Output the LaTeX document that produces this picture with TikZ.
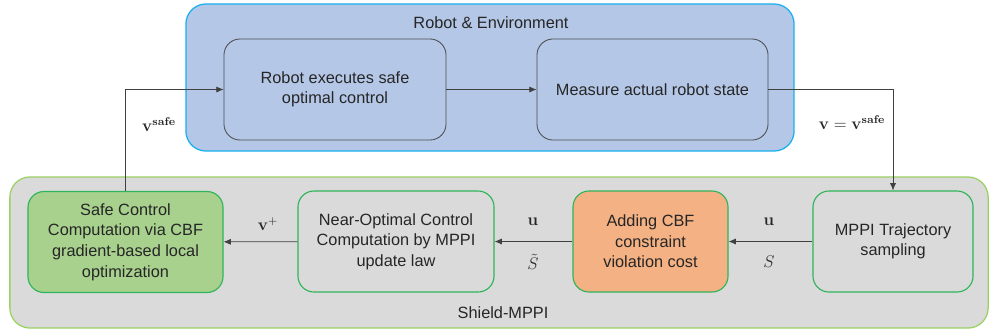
\documentclass[tikz,border=0pt]{standalone}
\usepackage{amsmath,amssymb}
\usepackage[no-math]{fontspec}
\setmainfont{Liberation Sans}
\usetikzlibrary{arrows.meta}

\definecolor{envfill}{HTML}{B4C7E7}
\definecolor{envedge}{HTML}{1AB0EE}
\definecolor{shieldfill}{HTML}{DADADA}
\definecolor{shieldedge}{HTML}{9BD163}
\definecolor{stageedge}{HTML}{2EB45A}
\definecolor{safefill}{HTML}{A9D18E}
\definecolor{costfill}{HTML}{F4B183}

\tikzset{
	groupbox/.style={draw, rounded corners=0.5cm, line width=0.9pt},
	envstage/.style={draw=black!70, fill=envfill, rounded corners=0.4cm, line width=0.6pt, align=center, minimum height=2.525cm},
	stage/.style={draw=stageedge, fill=shieldfill, rounded corners=0.4cm, line width=0.8pt, align=center, minimum height=2.525cm},
	flow/.style={->, draw=black!75, line width=0.5pt},
}

\begin{document}
\begin{tikzpicture}[x=0.025cm, y=-0.025cm, every node/.style={font=\fontsize{11.6}{14.6}\selectfont, text=black!85}, >={Latex[length=1.8mm, width=1.5mm]}]
	\useasboundingbox (0,0) rectangle (990,332);
	% outer groups
	\node (shield) [groupbox, draw=shieldedge, fill=shieldfill, minimum width=24.45cm, minimum height=3.775cm] at (499,252.5) {};
	\node (env) [groupbox, draw=envedge, fill=envfill, minimum width=15.2cm, minimum height=3.675cm] at (490,77.5) {};
	\node (envtitle) at (491,23) {Robot \& Environment};
	\node (shieldtitle) at (503,313) {Shield-MPPI};
	% robot side
	\node (exec) [envstage, minimum width=5.55cm] at (335,89.5) {Robot executes safe\\optimal control};
	\node (meas) [envstage, minimum width=5.775cm] at (652.5,89.5) {Measure actual robot state};
	% controller side
	\node (safe) [stage, fill=safefill, minimum width=4.875cm] at (125.5,242) {Safe Control\\Computation via CBF\\gradient-based local\\optimization};
	\node (nearopt) [stage, minimum width=4.9cm] at (396,241.5) {Near-Optimal Control\\Computation by MPPI\\update law};
	\node (cbfcost) [stage, fill=costfill, minimum width=3.875cm] at (650.5,241.5) {Adding CBF\\constraint\\violation cost};
	\node (mppi) [stage, minimum width=4cm] at (893,241.5) {MPPI Trajectory\\sampling};
	% connections
	\draw[flow] (exec) -- (meas);
	\draw[flow] (meas.east) -| (mppi.north);
	\draw[flow] (safe.north) |- (exec.west);
	\draw[flow] (mppi) -- (cbfcost);
	\draw[flow] (cbfcost) -- (nearopt);
	\draw[flow] (nearopt) -- (safe);
	% signal labels
	\node (vsafe) at (159,125) {$\mathbf{v}^{\mathbf{safe}}$};
	\node (vmeas) at (852,123) {$\mathbf{v}=\mathbf{v}^{\mathbf{safe}}$};
	\node (u1) at (769,222) {$\mathbf{u}$};
	\node (s1) at (769,262) {$S$};
	\node (u2) at (533,222) {$\mathbf{u}$};
	\node (s2) at (533,262) {$\tilde{S}$};
	\node (vplus) at (268,224) {$\mathbf{v}^{+}$};
\end{tikzpicture}
\end{document}
